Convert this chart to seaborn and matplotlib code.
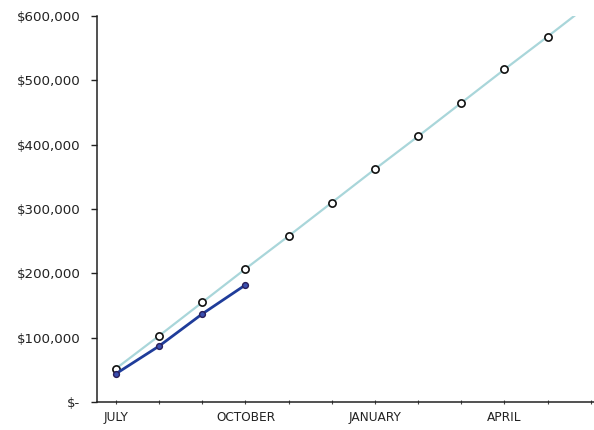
import matplotlib
matplotlib.use("Agg")
import matplotlib.pyplot as plt
import matplotlib.ticker as mticker
import seaborn as sns
import pandas as pd

# Fiscal-year months (July through June)
months = ["JULY", "AUGUST", "SEPTEMBER", "OCTOBER", "NOVEMBER", "DECEMBER",
          "JANUARY", "FEBRUARY", "MARCH", "APRIL", "MAY", "JUNE"]
# Cumulative projected total
projected = [52000, 103000, 155000, 207000, 258000, 310000,
             362000, 413000, 465000, 517000, 568000, 620000]
# Cumulative actual total to date
actual = [44000, 87000, 137000, 182000]
# Y-axis ticks
y_ticks = [0, 100000, 200000, 300000, 400000, 500000, 600000]

sns.set_style("white")
plt.rcParams["font.family"] = ["DejaVu Sans"]

proj_df = pd.DataFrame({"pos": range(len(projected)), "value": projected})
act_df = pd.DataFrame({"pos": range(len(actual)), "value": actual})

fig = plt.figure(figsize=(5.94, 4.30), dpi=100)
ax = fig.add_axes([0.1633, 0.0651, 0.84, 0.8977])

sns.lineplot(data=proj_df, x="pos", y="value", ax=ax, color="#a9d6da",
             linewidth=1.6, marker="o", markersize=5.2,
             markerfacecolor="white", markeredgecolor="#111111",
             markeredgewidth=1.2, zorder=2)
sns.lineplot(data=act_df, x="pos", y="value", ax=ax, color="#1f3c9a",
             linewidth=2.0, marker="o", markersize=4.2,
             markerfacecolor="#3a4fb0", markeredgecolor="#2a1f5a",
             markeredgewidth=1.0, zorder=3)

ax.set_xlim(-0.44, 11.12)
ax.set_ylim(0, 600000)

ax.set_xticks(range(len(months)))
ax.set_xticklabels([m if i % 3 == 0 else "" for i, m in enumerate(months)])
ax.set_yticks(y_ticks)


def money(v, _pos):
    return "$-" if v == 0 else f"${v:,.0f}"


ax.yaxis.set_major_formatter(mticker.FuncFormatter(money))

ax.set_xlabel("")
ax.set_ylabel("")
for side in ("top", "right"):
    ax.spines[side].set_visible(False)
for side in ("left", "bottom"):
    ax.spines[side].set_color("#222222")
    ax.spines[side].set_linewidth(1.1)

ax.tick_params(axis="y", left=True, direction="out", length=4, width=1,
               color="#222222", labelsize=9.6, labelcolor="#222222", pad=8)
ax.tick_params(axis="x", bottom=True, direction="inout", length=3, width=0.8,
               color="#444444", labelsize=8.7, labelcolor="#222222", pad=5)

fig.savefig("out.png", dpi=100)
